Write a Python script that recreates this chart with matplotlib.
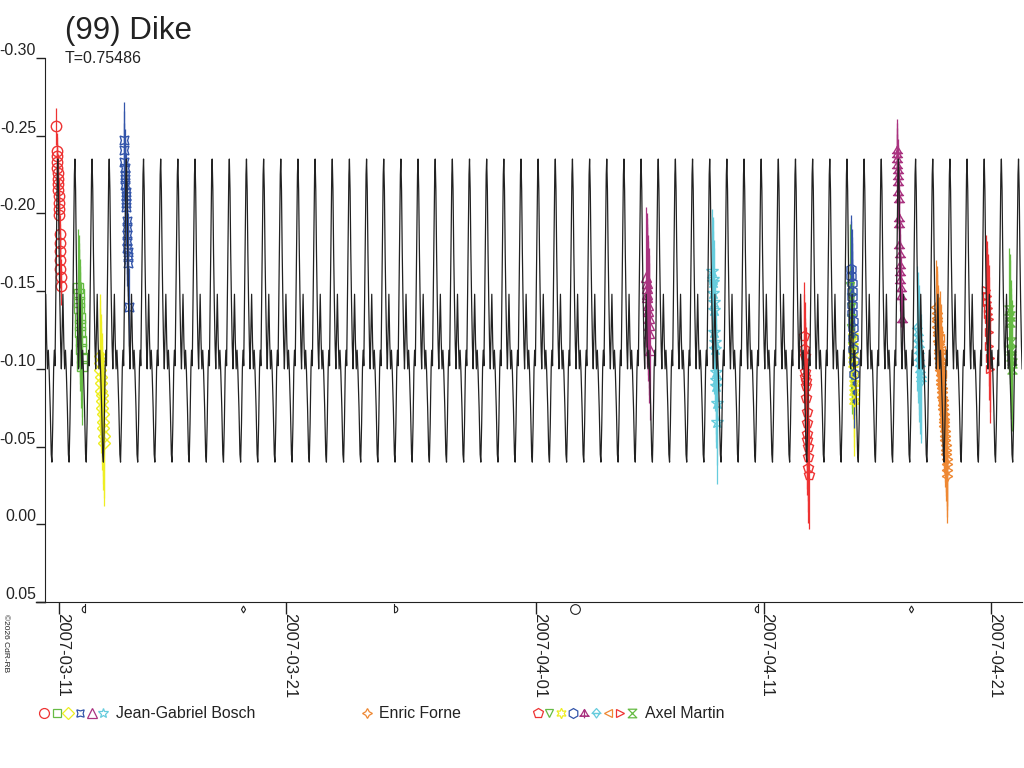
import numpy as np
import matplotlib
matplotlib.use("Agg")
import matplotlib.pyplot as plt
import matplotlib.dates as mdates
import matplotlib.transforms as mtransforms
from matplotlib.path import Path
from datetime import datetime

plt.rcParams.update({
    "font.family": ["Liberation Sans", "DejaVu Sans"],
    "font.size": 12,
    "text.color": "#222222",
    "axes.edgecolor": "#222222",
    "xtick.color": "#222222",
    "ytick.color": "#222222",
})

# ---- data (times = days after 2007-03-11 00:00 UT, values = relative mag) ----
PERIOD = 0.75486
EPOCH_MAX = 0.70          # time of a model maximum
PROFILE_PHASE = [0.00, 0.04, 0.08, 0.12, 0.17, 0.21, 0.26, 0.30, 0.35, 0.40, 0.45, 0.50,
                 0.56, 0.62, 0.66, 0.71, 0.76, 0.80, 0.84, 0.88, 0.93, 0.97]
PROFILE_MAG = [-0.235, -0.215, -0.175, -0.145, -0.115, -0.100, -0.125, -0.148, -0.118,
               -0.100, -0.112, -0.098, -0.075, -0.045, -0.040, -0.065, -0.100, -0.112,
               -0.102, -0.140, -0.185, -0.225]

t_jgb1 = [-0.12, -0.11, -0.10, -0.085, -0.075, -0.065, -0.05, -0.04, -0.03, -0.02,
          -0.005, 0.005, 0.015, 0.025, 0.035, 0.045, 0.055, 0.065, 0.07, 0.08]
m_jgb1 = [-0.256, -0.240, -0.237, -0.233, -0.229, -0.226, -0.222, -0.219, -0.215, -0.211,
          -0.207, -0.203, -0.199, -0.187, -0.181, -0.176, -0.170, -0.164, -0.159, -0.153]
t_jgb2 = [0.84, 0.86, 0.875, 0.89, 0.905, 0.92, 0.94, 0.955, 0.97, 0.99, 1.01]
m_jgb2 = [-0.152, -0.148, -0.143, -0.139, -0.133, -0.128, -0.124, -0.118, -0.113, -0.107, -0.102]
t_jgb3 = [1.79, 1.80, 1.815, 1.83, 1.845, 1.86, 1.87, 1.885, 1.90, 1.915, 1.93, 1.945, 1.96, 1.975]
m_jgb3 = [-0.108, -0.104, -0.099, -0.095, -0.091, -0.086, -0.083, -0.079, -0.075, -0.071,
          -0.066, -0.062, -0.057, -0.052]
t_jgb4 = [2.86, 2.87, 2.88, 2.89, 2.90, 2.91, 2.92, 2.93, 2.94, 2.95, 2.96, 2.97, 2.98, 2.99,
          3.00, 3.01, 3.02, 3.03, 3.04, 3.06]
m_jgb4 = [-0.247, -0.241, -0.233, -0.229, -0.225, -0.222, -0.218, -0.214, -0.211, -0.207,
          -0.204, -0.195, -0.191, -0.186, -0.182, -0.178, -0.175, -0.172, -0.168, -0.140]
t_jgb5 = [25.83, 25.85, 25.86, 25.88, 25.89, 25.91, 25.92, 25.94, 25.95, 25.97, 25.99]
m_jgb5 = [-0.159, -0.155, -0.152, -0.148, -0.146, -0.141, -0.137, -0.133, -0.128, -0.123, -0.112]
t_jgb6 = [28.74, 28.76, 28.77, 28.79, 28.80, 28.82, 28.84, 28.85, 28.87, 28.89, 28.90, 28.92,
          28.94, 28.95]
m_jgb6 = [-0.163, -0.158, -0.156, -0.149, -0.143, -0.138, -0.124, -0.117, -0.113, -0.098,
          -0.093, -0.089, -0.078, -0.066]
t_ef1 = [38.60, 38.61, 38.63, 38.64, 38.65, 38.67, 38.68, 38.69, 38.70, 38.72, 38.73, 38.74,
         38.76, 38.77, 38.78, 38.80, 38.81, 38.82, 38.84, 38.85, 38.86, 38.88, 38.89, 38.90,
         38.92, 38.93, 38.94, 38.96, 38.97, 38.98, 39.00, 39.01, 39.02, 39.04, 39.05, 39.06,
         39.08, 39.09]
m_ef1 = [-0.140, -0.136, -0.133, -0.131, -0.127, -0.124, -0.122, -0.118, -0.116, -0.112,
         -0.110, -0.107, -0.104, -0.101, -0.099, -0.096, -0.093, -0.090, -0.088, -0.085,
         -0.082, -0.080, -0.077, -0.074, -0.071, -0.068, -0.066, -0.063, -0.060, -0.057,
         -0.054, -0.051, -0.048, -0.045, -0.042, -0.039, -0.035, -0.031]
t_am1 = [32.78, 32.79, 32.805, 32.82, 32.83, 32.845, 32.86, 32.875, 32.89, 32.90, 32.915,
         32.93, 32.945, 32.96, 32.97, 32.98]
m_am1 = [-0.121, -0.113, -0.108, -0.098, -0.095, -0.092, -0.089, -0.081, -0.072, -0.065,
         -0.058, -0.054, -0.050, -0.043, -0.036, -0.032]
t_am2 = [34.82, 34.83, 34.84, 34.85, 34.86, 34.87, 34.88, 34.89]
m_am2 = [-0.153, -0.146, -0.140, -0.133, -0.126, -0.120, -0.115, -0.111]
t_am3 = [34.92, 34.93, 34.94, 34.95, 34.96, 34.97, 34.98, 34.99]
m_am3 = [-0.121, -0.115, -0.109, -0.103, -0.097, -0.091, -0.085, -0.079]
t_am4 = [34.85, 34.86, 34.87, 34.88, 34.89, 34.90, 34.91, 34.92, 34.93, 34.94, 34.95, 34.96, 34.97]
m_am4 = [-0.164, -0.160, -0.155, -0.150, -0.146, -0.141, -0.136, -0.131, -0.126, -0.120,
         -0.113, -0.105, -0.097]
t_am5 = [36.86, 36.87, 36.88, 36.89, 36.90, 36.91, 36.92, 36.93, 36.95, 36.96, 36.97, 36.98,
         36.99, 37.00, 37.01, 37.02, 37.03, 37.05, 37.08]
m_am5 = [-0.241, -0.238, -0.235, -0.231, -0.228, -0.224, -0.220, -0.214, -0.209, -0.197,
         -0.193, -0.180, -0.174, -0.167, -0.162, -0.157, -0.152, -0.147, -0.132]
t_am6 = [37.76, 37.78, 37.80, 37.82, 37.84, 37.86, 37.88, 37.90, 37.92, 37.94]
m_am6 = [-0.126, -0.122, -0.118, -0.114, -0.110, -0.106, -0.102, -0.098, -0.095, -0.092]
t_am7 = [38.78, 38.80, 38.82, 38.84]
m_am7 = [-0.120, -0.112, -0.104, -0.097]
t_am8 = [40.80, 40.82, 40.84, 40.86, 40.88, 40.90, 40.92, 40.94, 40.96, 40.98]
m_am8 = [-0.151, -0.147, -0.143, -0.139, -0.135, -0.132, -0.124, -0.115, -0.107, -0.100]
t_am9 = [41.82, 41.84, 41.85, 41.87, 41.88, 41.90, 41.91, 41.93]
m_am9 = [-0.138, -0.134, -0.130, -0.117, -0.112, -0.108, -0.104, -0.100]

# per-session error bar half-length (mag)
ERR_JGB = [0.012, 0.038, 0.040, 0.025, 0.045, 0.040]
ERR_EF = [0.030]
ERR_AM = [0.035, 0.040, 0.035, 0.035, 0.020, 0.040, 0.030, 0.035, 0.040]

MOON_DAYS = [1.16, 8.11, 14.76, 22.72, 30.75, 37.48]
MOON_KIND = ["lq", "new", "fq", "full", "lq", "new"]

TICK_DATES = ["2007-03-11", "2007-03-21", "2007-04-01", "2007-04-11", "2007-04-21"]
Y_TICKS = [-0.30, -0.25, -0.20, -0.15, -0.10, -0.05, 0.00, 0.05]
OBSERVERS = ["Jean-Gabriel Bosch", "Enric Forne", "Axel Martin"]

# ---- marker shapes ----
M, L, C = Path.MOVETO, Path.LINETO, Path.CLOSEPOLY
hourglass = Path([(-1, 1), (1, 1), (-1, -1), (1, -1), (-1, 1)], [M, L, L, L, C])
tri_stem = Path([(-1, -0.7), (1, -0.7), (0, 1), (-1, -0.7), (0, 1), (0, -1.2), (-1.3, -0.7), (1.3, -0.7)],
                [M, L, L, L, M, L, M, L])
tri_double = Path([(-1, 0), (1, 0), (0, 1.1), (-1, 0), (-0.7, 0), (0.7, 0), (0, -1.0), (-0.7, 0)],
                  [M, L, L, C, M, L, L, C])
ang = np.radians(np.linspace(90, 270, 13))
lq_moon = Path(list(zip(np.cos(ang), np.sin(ang))) + [(0, 1.7)])
fq_moon = Path(list(zip(-np.cos(ang), np.sin(ang))) + [(0, 1.7)])

RED, GREEN, YELLOW, BLUE = "#ee3333", "#66bb44", "#eeee22", "#3355aa"
MAGENTA, CYAN, ORANGE = "#aa3380", "#66ccdd", "#ee8833"

JGB_STYLE = [("o", RED, 7.5), ("s", GREEN, 6.5), ("D", YELLOW, 6), ((4, 1, 45), BLUE, 9),
             ("^", MAGENTA, 7), ("*", CYAN, 9.5)]
EF_STYLE = [((4, 1, 0), ORANGE, 7.5)]
AM_STYLE = [("p", RED, 7.5), ("v", GREEN, 6), ((6, 1, 0), YELLOW, 8), ("h", BLUE, 7.5),
            (tri_stem, MAGENTA, 8), (tri_double, CYAN, 7.5), ("<", ORANGE, 6),
            (">", RED, 6), (hourglass, GREEN, 6.5)]

BASE = mdates.date2num(datetime(2007, 3, 11))

fig = plt.figure(figsize=(10.24, 7.68), dpi=100)
ax = fig.add_axes([45 / 1024, 1 - 602 / 768, 977 / 1024, 544 / 768])

sessions = [
    (t_jgb1, m_jgb1, ERR_JGB[0], JGB_STYLE[0]), (t_jgb2, m_jgb2, ERR_JGB[1], JGB_STYLE[1]),
    (t_jgb3, m_jgb3, ERR_JGB[2], JGB_STYLE[2]), (t_jgb4, m_jgb4, ERR_JGB[3], JGB_STYLE[3]),
    (t_jgb5, m_jgb5, ERR_JGB[4], JGB_STYLE[4]), (t_jgb6, m_jgb6, ERR_JGB[5], JGB_STYLE[5]),
    (t_am1, m_am1, ERR_AM[0], AM_STYLE[0]), (t_am2, m_am2, ERR_AM[1], AM_STYLE[1]),
    (t_am3, m_am3, ERR_AM[2], AM_STYLE[2]), (t_am4, m_am4, ERR_AM[3], AM_STYLE[3]),
    (t_am5, m_am5, ERR_AM[4], AM_STYLE[4]), (t_am6, m_am6, ERR_AM[5], AM_STYLE[5]),
    (t_am7, m_am7, ERR_AM[6], AM_STYLE[6]), (t_ef1, m_ef1, ERR_EF[0], EF_STYLE[0]),
    (t_am8, m_am8, ERR_AM[7], AM_STYLE[7]), (t_am9, m_am9, ERR_AM[8], AM_STYLE[8]),
]
for t, m, err, (mk, col, ms) in sessions:
    x = BASE + np.asarray(t)
    ax.errorbar(x, m, yerr=err, fmt="none", ecolor=col, elinewidth=0.9, zorder=2)
    ax.plot(x, m, linestyle="none", marker=mk, markersize=ms, markerfacecolor="none",
            markeredgecolor=col, markeredgewidth=1.0, zorder=3)

# model light curve: the one-cycle profile repeated over the whole span
phase = np.asarray(PROFILE_PHASE)
prof = np.asarray(PROFILE_MAG)
cycles = np.arange(-2, 60)
t_model = (EPOCH_MAX + PERIOD * (cycles[:, None] + phase[None, :])).ravel()
m_model = np.tile(prof, len(cycles))
ax.plot(BASE + t_model, m_model, color="#222222", linewidth=0.9, zorder=4)

# moon phases just under the time axis
moon_style = {"lq": (lq_moon, 8), "fq": (fq_moon, 8), "full": ("o", 7), "new": ("d", 3.5)}
for d, kind in zip(MOON_DAYS, MOON_KIND):
    mk, ms = moon_style[kind]
    ax.plot([BASE + d], [-0.012], transform=ax.get_xaxis_transform(), marker=mk,
            markersize=ms, markerfacecolor="none", markeredgecolor="#222222",
            markeredgewidth=0.8, clip_on=False, linestyle="none")

ax.set_xlim(BASE - 0.616, BASE + 42.37)
ax.set_ylim(0.05, -0.30)
for s in ("top", "right"):
    ax.spines[s].set_visible(False)
ax.plot([-9 / 977, 0], [0, 0], transform=ax.transAxes, color="#222222", lw=1, clip_on=False)

ax.set_yticks(Y_TICKS)
ax.set_yticklabels([f"{v:.2f}" for v in Y_TICKS])
ax.tick_params(axis="y", direction="out", length=6.5, width=1, pad=0, labelsize=11.4)
for lab in ax.get_yticklabels():
    lab.set_verticalalignment("bottom")

# date ticks pointing down, labels read top-to-bottom just right of each tick
xt = [mdates.date2num(datetime.strptime(s, "%Y-%m-%d")) for s in TICK_DATES]
ax.set_xticks(xt)
ax.set_xticklabels([])
ax.tick_params(axis="x", direction="out", length=8.5, width=1)
shift = mtransforms.ScaledTranslation(-4 / 100, -11 / 100, fig.dpi_scale_trans)
for xv, lab in zip(xt, TICK_DATES):
    ax.text(xv, 0, lab, transform=ax.get_xaxis_transform() + shift, rotation=270,
            ha="left", va="top", fontsize=12)

fig.text(65 / 1024, 1 - 39 / 768, "(99) Dike", fontsize=22.5, va="baseline")
fig.text(65 / 1024, 1 - 63 / 768, "T=0.75486", fontsize=11.5, va="baseline")
fig.text(5 / 1024, 1 - 614 / 768, "\u00a92026 CdR-RB", fontsize=6, rotation=270,
         ha="center", va="top")

# legend row in pixel coordinates
lg = fig.add_axes([0, 0, 1, 1], facecolor="none")
lg.set_xlim(0, 1024)
lg.set_ylim(768, 0)
lg.axis("off")
legend_rows = [
    (JGB_STYLE, [44, 57, 68, 80, 92, 103], 116, OBSERVERS[0]),
    (EF_STYLE, [367], 379, OBSERVERS[1]),
    (AM_STYLE, [538, 549, 561, 573, 584, 596, 608, 620, 632], 645, OBSERVERS[2]),
]
for styles, xs, xtext, name in legend_rows:
    for (mk, col, ms), xp in zip(styles, xs):
        lg.plot([xp], [713], marker=mk, markersize=min(ms * 0.95, 7.5), markerfacecolor="none",
                markeredgecolor=col, markeredgewidth=0.9, linestyle="none")
    lg.text(xtext, 713, name, fontsize=11.4, va="center", ha="left")

fig.savefig("out.png", dpi=100)
